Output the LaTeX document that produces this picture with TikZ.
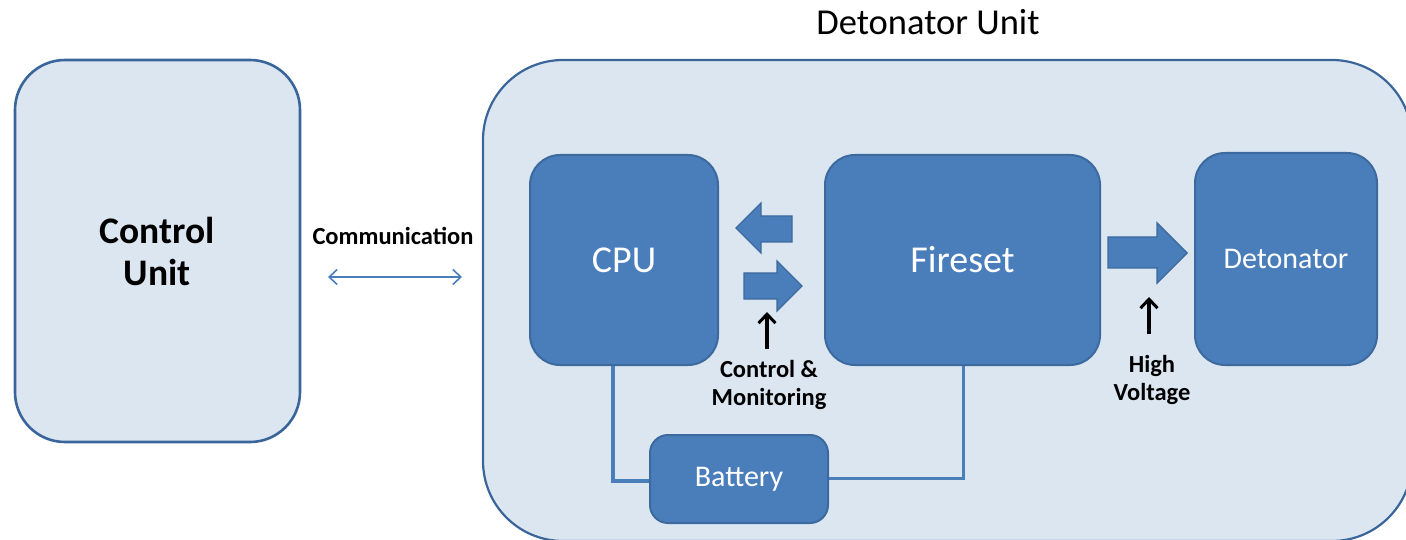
\documentclass[tikz,border=0pt]{standalone}
\usepackage{fontspec}
\setmainfont{Carlito}
\usetikzlibrary{arrows.meta}
\definecolor{paleblue}{HTML}{DCE6F1}
\definecolor{edgeblue}{HTML}{3A659A}
\definecolor{boxblue}{HTML}{4A7EBB}
\definecolor{boxedge}{HTML}{3C6A9E}
\definecolor{wireblue}{HTML}{4A7EBB}
\pgfdeclarelayer{back}
\pgfsetlayers{back,main}
\tikzset{
  outerbox/.style={draw=edgeblue, fill=paleblue, line width=2.6pt, rounded corners=#1},
  innerbox/.style={draw=boxedge, fill=boxblue, line width=2pt, rounded corners=30pt,
    text=white, font=\fontsize{38}{40}\selectfont, inner sep=0pt},
  smalltext/.style={font=\fontsize{30}{34}\selectfont},
  blockarrow/.style={draw=boxedge, fill=boxblue, line width=1.4pt, line join=miter},
  wire/.style={draw=wireblue, line width=3.5pt},
  hint/.style={draw=black, line width=3.2pt, -{Straight Barb[length=9pt,width=17pt,line width=3pt]}},
  caption/.style={font=\bfseries\fontsize{24.5}{28}\selectfont, align=center, inner sep=0pt}
}
\begin{document}
\begin{tikzpicture}[x=1pt,y=-1pt]
\useasboundingbox (0,0) rectangle (1406,540);

% control unit
\draw[outerbox=50pt] (15,60) rectangle (300,442);
\node[font=\bfseries\fontsize{37.5}{42}\selectfont, align=center] (cu) at (157,251) {Control\\Unit};

% detonator unit title
\node[font=\fontsize{36.5}{40}\selectfont] (du) at (928,22) {Detonator Unit};

% communication link
\node[caption] (comm) at (393,236) {Communication};
\coordinate (cl) at (328,277);
\coordinate (cr) at (462,277);
\draw[draw=wireblue, line width=1.6pt, {Straight Barb[length=8pt,width=15pt,line width=1.6pt]}-{Straight Barb[length=8pt,width=15pt,line width=1.6pt]}] (cl) -- (cr);

% functional blocks
\node[innerbox, minimum width=188pt, minimum height=210pt] (cpu) at (624,260) {CPU};
\node[innerbox, minimum width=275pt, minimum height=210pt] (fire) at (962.5,260) {Fireset};
\node[innerbox, smalltext, minimum width=182pt, minimum height=212pt] (det) at (1286,259) {Detonator};
\node[innerbox, smalltext, minimum width=178pt, minimum height=88pt, rounded corners=18pt] (bat) at (739,479) {Battery};

% enclosure and battery wiring, behind the blocks
\begin{pgfonlayer}{back}
  \draw[outerbox=80pt, line width=2.2pt] (483,60) rectangle (1412,541);
  \draw[wire] (cpu.south -| 613,0) |- (bat.west |- 0,481);
  \draw[wire, line width=3pt] (bat.east |- 0,478) -| (fire.south -| 963,0);
\end{pgfonlayer}

% block arrows between CPU and fireset
\draw[blockarrow] (736,228) -- (761,203) -- (761,216) -- (792,216) -- (792,242) -- (761,242) -- (761,253) -- cycle;
\draw[blockarrow] (802,286) -- (777,261) -- (777,273) -- (744,273) -- (744,299) -- (777,299) -- (777,311) -- cycle;
% high voltage arrow
\draw[blockarrow] (1187,253) -- (1157,223) -- (1157,237) -- (1108,237) -- (1108,268) -- (1157,268) -- (1157,283) -- cycle;

% labels with pointers
\node[caption] (cm) at (769,385) {Control \&\\Monitoring};
\coordinate (cmtail) at (767,349);
\coordinate (cmtip) at (767,312);
\draw[hint] (cmtail) -- (cmtip);
\node[caption] (hv) at (1152,380) {High\\Voltage};
\coordinate (hvtail) at (1149,334);
\coordinate (hvtip) at (1149,297);
\draw[hint] (hvtail) -- (hvtip);
\end{tikzpicture}
\end{document}
